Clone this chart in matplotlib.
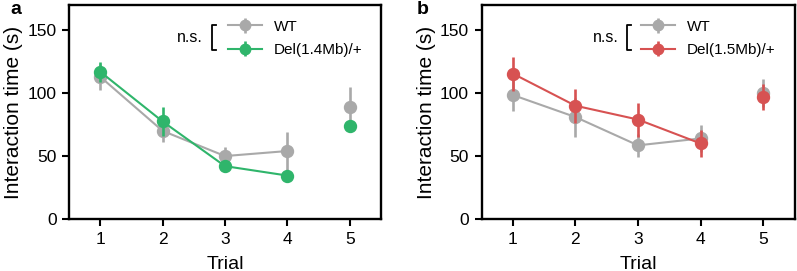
import matplotlib
matplotlib.use("Agg")
import matplotlib.pyplot as plt
from matplotlib.lines import Line2D

plt.rcParams['font.family'] = ['Liberation Sans', 'DejaVu Sans']

trials = [1, 2, 3, 4, 5]
xticks = [1, 2, 3, 4, 5]
yticks = [0, 50, 100, 150]

wt_a_mean = [113, 70, 50, 54, 89]
wt_a_sem = [10.5, 8.5, 7.5, 15.5, 16]
del14_mean = [117, 77.5, 42, 34.5, 73.5]
del14_sem = [8, 11.5, 3, 2, 2]

wt_b_mean = [98.5, 81, 58.5, 64, 100]
wt_b_sem = [12.5, 15.5, 9, 11, 11]
del15_mean = [115.5, 90, 79, 60, 97]
del15_sem = [13.5, 13.5, 13.5, 10.5, 10.5]

GRAY = '#a9a9a9'
GREEN = '#2fb56b'
RED = '#d75252'

fig = plt.figure(figsize=(7.97, 2.71), dpi=100)
axA = fig.add_axes([69/797, 1-219/271, 312/797, 214/271])
axB = fig.add_axes([481.5/797, 1-219/271, 313/797, 214/271])


def draw(ax, wt_m, wt_s, mu_m, mu_s, col, mu_label):
    kw = dict(marker='o', markersize=8.6, lw=1.5, elinewidth=1.9, capsize=0)
    # connected trials 1-4
    ax.errorbar(trials[:4], wt_m[:4], yerr=wt_s[:4], color=GRAY, zorder=2, **kw)
    ax.errorbar(trials[:4], mu_m[:4], yerr=mu_s[:4], color=col, zorder=3, **kw)
    # trial 5 alone
    ax.errorbar(trials[4:], wt_m[4:], yerr=wt_s[4:], color=GRAY, ls='none', zorder=2, **kw)
    ax.errorbar(trials[4:], mu_m[4:], yerr=mu_s[4:], color=col, ls='none', zorder=3, **kw)

    ax.set_xlim(0.5, 5.5)
    ax.set_ylim(0, 170)
    ax.set_xticks(xticks)
    ax.set_yticks(yticks)
    ax.tick_params(labelsize=12.5, width=1.5, length=5, direction='out', pad=4)
    for sp in ax.spines.values():
        sp.set_linewidth(1.7)
    ax.set_xlabel('Trial', fontsize=14, labelpad=6.5)
    ax.set_ylabel('Interaction time (s)', fontsize=15, labelpad=3)

    lkw = dict(kw)
    lkw['markersize'] = 7.5
    h_wt = ax.errorbar([], [], yerr=[], color=GRAY, **lkw)
    h_mu = ax.errorbar([], [], yerr=[], color=col, **lkw)
    leg = ax.legend([h_wt, h_mu], ['WT', mu_label], loc='upper left',
                    bbox_to_anchor=(0.50, 0.945), frameon=False, fontsize=11,
                    handlelength=2.2, handletextpad=0.8, labelspacing=0.6,
                    borderpad=0.2, borderaxespad=0)
    return leg


draw(axA, wt_a_mean, wt_a_sem, del14_mean, del14_sem, GREEN, 'Del(1.4Mb)/+')
draw(axB, wt_b_mean, wt_b_sem, del15_mean, del15_sem, RED, 'Del(1.5Mb)/+')


def bracket(ax, xt, xb, y0, y1):
    ax.text(xt, (y0 + y1) / 2, 'n.s.', transform=ax.transAxes, fontsize=11.5,
            ha='left', va='center')
    ax.add_line(Line2D([xb + 0.014, xb, xb, xb + 0.014], [y0, y0, y1, y1],
                       transform=ax.transAxes, color='black', lw=1.3,
                       clip_on=False))


bracket(axA, (177-69)/312, (212-69)/312, 1-(25-5)/214, 1-(50-5)/214)
bracket(axB, (593-481.5)/313, (627-481.5)/313, 1-(25-5)/214, 1-(50-5)/214)

fig.text(10/797, 1-10/271, 'a', fontsize=14, fontweight='bold', va='center', ha='left')
fig.text(417/797, 1-10/271, 'b', fontsize=14, fontweight='bold', va='center', ha='left')

fig.savefig('out.png', dpi=100)
